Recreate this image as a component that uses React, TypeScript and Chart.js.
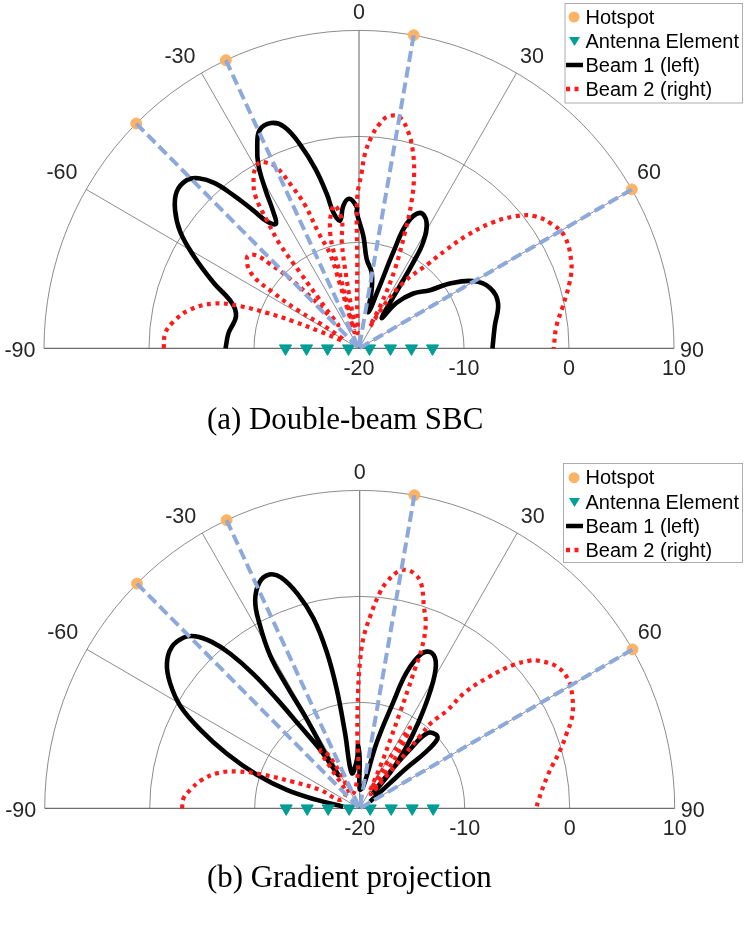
import React, { useEffect, useRef } from "react";
import { Chart, registerables } from "chart.js";

Chart.register(...registerables);

// polar values: angle in degrees, gain in dB
const radialTicks = [-20, -10, 0, 10];
const angleTicks = [-90, -60, -30, 0, 30, 60, 90];
const hotspotAngles = [-45, -25, 10, 60];
const hotspotGains = [10, 10, 10, 10];
const antennaAngles = [-90, -90, -90, -90, 90, 90, 90, 90];
const antennaGains = [-13, -15, -17, -19, -19, -17, -15, -13];
const legendLabels = ["Hotspot", "Antenna Element", "Beam 1 (left)", "Beam 2 (right)"];

const sbcBeam1Angles = [-90, -83.4, -75.5, -70.5, -65.9, -61, -57.2, -53.3, -49.6, -45.9, -43.6, -41.4, -39.6, -37.7, -36.2, -34, -32.4, -30.7, -29, -27, -24.7, -21.5, -18.8, -16.2, -13.8, -11.9, -10.8, -8.5, -6.3, -3.7, -0.9, -1, 2.2, 5, 9.6, 12.2, 14.6, 18.3, 19.8, 21.1, 24.4, 28.4, 31.4, 32.5, 33.9, 36.9, 39.8, 44.9, 50.9, 54.7, 59.7, 65.3, 72, 80.9, 90];
const sbcBeam1Gains = [-7.29, -7.49, -7.9, -7.16, -4.83, -2, 0.24, 1.85, 2.8, 2.82, 2.16, 0.78, -1.27, -3.57, -5.13, -5.84, -4.78, -2.48, -0.25, 1.35, 2.65, 2.85, 2.08, -0.02, -2.53, -5.09, -6.92, -7.81, -6.44, -5.86, -6.67, -7.15, -9.36, -11.56, -12.75, -14.31, -16.48, -14.14, -10.38, -7.41, -5.96, -6.47, -8.28, -10.4, -13.87, -16.41, -14.4, -12.69, -11.29, -9.4, -7.41, -6.29, -6.08, -6.91, -7.29];
const sbcBeam2Angles = [-90, -85.5, -81.8, -77.5, -73, -70.6, -69.1, -67.8, -66.7, -63.6, -57.5, -58.3, -57.2, -55.6, -51.2, -48.3, -46.8, -45.2, -43.3, -42, -40, -38.1, -37.5, -36, -34.4, -32, -30.2, -28.4, -26.8, -24.8, -22.6, -20.8, -19.5, -17.2, -16.7, -16.5, -16, -15, -14.5, -14.1, -10.1, -7.7, -9.3, -10.2, -10.5, -6, -2.4, -1.2, -0.7, 0.9, 1.8, 3.4, 5.3, 7.2, 10, 12.7, 15.3, 17.8, 19.9, 21.8, 24.6, 26.7, 26.8, 30.2, 34.2, 39.8, 41.6, 43.9, 46.8, 50.2, 53.3, 57.3, 61.6, 68.2, 72.8, 78.4, 83.7, 90];
const sbcBeam2Gains = [-1.4, -1.5, -2.17, -3.38, -5.52, -8.01, -10.61, -13.25, -15.96, -18.34, -16.73, -13.04, -10.31, -7.64, -6.31, -6.75, -8.4, -10.31, -13.67, -17.03, -15.22, -10.91, -7.68, -5.1, -2.51, -1.05, -0.35, -0.06, -0.35, -1.12, -3.5, -5.58, -8.38, -10.69, -13.7, -16.16, -18.4, -15.5, -12.5, -8.71, -6.31, -7.67, -9.87, -13.38, -16.58, -18.54, -15.39, -12.22, -5.88, -3.35, -1.6, 0, 1.28, 2.05, 2.16, 1.07, -0.62, -2.84, -5.31, -8.21, -11.79, -15.19, -17.68, -15.4, -12.51, -9.46, -7.69, -5.25, -2.7, -0.5, 0.87, 1.76, 2.25, 1.78, 0.99, -0.18, -1.09, -1.46];

const gradBeam1Angles = [-84, -78.9, -75.9, -72, -67.8, -63.9, -60.5, -56.8, -53.3, -49.6, -46.1, -44, -41.9, -40.2, -38.6, -37.4, -36.2, -34.2, -33, -32.5, -30.9, -31, -30.6, -28.7, -26.9, -24.1, -21.3, -19, -16.3, -13.8, -12, -11, -11.1, -12.8, -3.2, -1.5, 0, 0, 9.4, 14.6, 17.7, 19.2, 22, 25, 28.3, 31.4, 34.6, 37.8, 40.8, 41, 40, 40.7, 42, 46.1, 48.6, 49.8, 49.5, 50.4, 57];
const gradBeam1Gains = [-18.43, -15.84, -12.84, -9.71, -6.34, -3.09, -0.37, 1.58, 2.9, 3.5, 3.25, 2.58, 1.1, -0.9, -3.78, -7.02, -10.38, -13.29, -16.27, -14.17, -10.2, -6.51, -3.25, -0.1, 2, 3.37, 3.68, 3.05, 1.08, -1.56, -4.92, -8.54, -12.73, -16.58, -15.39, -13.97, -15.39, -18.2, -17.91, -13.6, -9.51, -6.41, -4.27, -3.8, -4.7, -7.18, -10.18, -12.98, -15.59, -18, -15.03, -12.67, -10.48, -9.93, -10.17, -11.88, -14.13, -16.26, -18.83];
const gradBeam2Angles = [-90, -86.7, -83.8, -79.8, -76, -73.2, -70.9, -68.6, -65.1, -66.8, -42, -36, -34.5, -31, -29, -30, -3, -1.8, -0.8, 0.1, 1.2, 3.1, 5.4, 6.8, 9.2, 11.1, 13.2, 15.3, 17.9, 20, 21.4, 21.8, 22.3, 23, 24, 26, 29, 30, 31, 31.5, 32.1, 34, 36, 38, 40, 40.1, 40.2, 42, 42.5, 44.7, 47.2, 49.3, 50.6, 54.4, 58.4, 62.3, 66.7, 70.5, 74.2, 80, 87.9, 90];
const gradBeam2Gains = [-3.08, -3.2, -3.77, -4.74, -6.15, -7.95, -10.3, -13.06, -15.84, -17.97, -18, -15.5, -13.4, -14, -16.5, -18.5, -16.67, -12.83, -9.03, -6.21, -3.99, -1.9, 0.47, 1.46, 2.63, 2.93, 2.75, 2.08, -0.07, -1.62, -3.83, -5.84, -7.83, -10.18, -12.54, -15.23, -17.64, -18, -15, -13, -11.01, -12.5, -15, -18.3, -15.03, -11.09, -9.4, -7.63, -5.17, -2.61, -0.09, 1.37, 1.97, 3.03, 3.29, 2.86, 2.04, 0.87, -0.21, -1.8, -3.01, -3.17];

const GRID = "#6e6e6e";
const INK = "#262626";
const ORANGE = "#fdb366";
const TEAL = "#009e96";
const BLUE = "#8da9dc";
const RED = "#ff1a1a";

const rad = (deg: number) => (deg * Math.PI) / 180;

// polar value -> plot coordinate, distance from the -20 dB centre in dB
const polar = (angle: number, gain: number) => ({
  x: (gain + 20) * Math.sin(rad(angle)),
  y: (gain + 20) * Math.cos(rad(angle)),
});
const curve = (angles: number[], gains: number[]) => angles.map((a, i) => polar(a, gains[i]));

// the source plot is very slightly taller than wide
const PX_PER_DB_X = 10.5;
const PX_PER_DB_Y = 10.6;
const WIDTH = 747;
const HEIGHT = 460;

// angle label position relative to the centre, px
const angleLabelOffsets: Record<number, number[]> = {
  [-90]: [-339, 1.5],
  [-60]: [-297, -176.5],
  [-30]: [-179, -292.5],
  0: [0, -336.5],
  30: [173, -292.5],
  60: [290, -176.5],
  90: [333, 1.5],
};

const makePolarGrid = (legendX: number, legendH: number, rows: number[]) => ({
  id: "polarGrid",
  beforeDatasetsDraw(chart: any) {
    const { ctx, scales } = chart;
    const px = (p: { x: number; y: number }) => [scales.x.getPixelForValue(p.x), scales.y.getPixelForValue(p.y)];
    const [cx, cy] = px({ x: 0, y: 0 });
    ctx.save();
    ctx.strokeStyle = GRID;
    ctx.lineWidth = 0.8;
    radialTicks.slice(1).forEach((t) => {
      const [ex] = px({ x: t + 20, y: 0 });
      const [, ey] = px({ x: 0, y: t + 20 });
      ctx.beginPath();
      ctx.ellipse(cx, cy, ex - cx, cy - ey, 0, Math.PI, 2 * Math.PI);
      ctx.stroke();
    });
    angleTicks.forEach((a) => {
      const [ex, ey] = px(polar(a, 10));
      ctx.lineWidth = a === 0 || Math.abs(a) === 90 ? 1.1 : 0.8;
      ctx.beginPath();
      ctx.moveTo(cx, cy);
      ctx.lineTo(ex, ey);
      ctx.stroke();
    });
    ctx.restore();
  },
  afterDatasetsDraw(chart: any) {
    const { ctx, scales } = chart;
    const px = (p: { x: number; y: number }) => [scales.x.getPixelForValue(p.x), scales.y.getPixelForValue(p.y)];
    const [cx, cy] = px({ x: 0, y: 0 });
    ctx.save();
    ctx.fillStyle = INK;
    ctx.font = '21.5px "Liberation Sans"';
    ctx.textAlign = "center";
    ctx.textBaseline = "middle";
    radialTicks.forEach((t) => {
      const [ex] = px({ x: t + 20, y: 0 });
      ctx.fillText(String(t), ex, cy + 21);
    });
    angleTicks.forEach((a) => {
      const [dx, dy] = angleLabelOffsets[a];
      ctx.fillText(String(a), cx + dx, cy + dy + 1.5);
    });

    // legend box
    ctx.fillStyle = "#fff";
    ctx.fillRect(legendX, 3.5, 742.6 - legendX, legendH);
    ctx.strokeStyle = "#999";
    ctx.lineWidth = 0.8;
    ctx.strokeRect(legendX, 3.5, 742.6 - legendX, legendH);
    ctx.fillStyle = ORANGE;
    ctx.beginPath();
    ctx.arc(574, rows[0], 5.5, 0, 2 * Math.PI);
    ctx.fill();
    ctx.fillStyle = TEAL;
    ctx.beginPath();
    ctx.moveTo(569, rows[1] - 4);
    ctx.lineTo(580, rows[1] - 4);
    ctx.lineTo(574.5, rows[1] + 5);
    ctx.closePath();
    ctx.fill();
    ctx.strokeStyle = "#000";
    ctx.lineWidth = 4.5;
    ctx.beginPath();
    ctx.moveTo(566, rows[2]);
    ctx.lineTo(583, rows[2]);
    ctx.stroke();
    ctx.strokeStyle = RED;
    ctx.setLineDash([4, 4.5]);
    ctx.beginPath();
    ctx.moveTo(566, rows[3]);
    ctx.lineTo(580, rows[3]);
    ctx.stroke();
    ctx.setLineDash([]);
    ctx.fillStyle = "#000";
    ctx.font = '20px "Liberation Sans"';
    ctx.textAlign = "left";
    legendLabels.forEach((label, i) => ctx.fillText(label, 585.5, rows[i] + 1));
    ctx.restore();
  },
});

type PanelProps = {
  beam1Angles: number[];
  beam1Gains: number[];
  beam2Angles: number[];
  beam2Gains: number[];
  centerX: number;
  centerY: number;
  top: number;
  legendX: number;
  legendH: number;
  legendRows: number[];
};

const Panel = ({ beam1Angles, beam1Gains, beam2Angles, beam2Gains, centerX, centerY, top, legendX, legendH, legendRows }: PanelProps) => {
  const canvasRef = useRef<HTMLCanvasElement>(null);

  useEffect(() => {
    if (!canvasRef.current) return;
    const spokes = hotspotAngles.map((a, i) => ({
      data: [polar(a, hotspotGains[i]), polar(a, -20)],
      showLine: true,
      borderColor: BLUE,
      borderWidth: 4,
      borderDash: [11, 5],
      pointRadius: 0,
      order: 1,
    }));
    const chart = new Chart(canvasRef.current, {
      type: "scatter",
      data: {
        datasets: [
          ...spokes,
          {
            data: curve(hotspotAngles, hotspotGains),
            backgroundColor: ORANGE,
            borderColor: ORANGE,
            pointRadius: 5.5,
            order: 2,
          },
          {
            data: curve(antennaAngles, antennaGains),
            backgroundColor: TEAL,
            borderColor: TEAL,
            pointStyle: "triangle",
            rotation: 180,
            pointRadius: 7,
            order: 3,
          },
          {
            data: curve(beam2Angles, beam2Gains),
            showLine: true,
            borderColor: RED,
            borderWidth: 4.2,
            borderDash: [4, 4.5],
            tension: 0.4,
            pointRadius: 0,
            order: 4,
          },
          {
            data: curve(beam1Angles, beam1Gains),
            showLine: true,
            borderColor: "#000",
            borderWidth: 4.6,
            tension: 0.4,
            pointRadius: 0,
            order: 5,
          },
        ] as any,
      },
      options: {
        animation: false,
        responsive: false,
        layout: { padding: 0, autoPadding: false },
        plugins: { legend: { display: false }, tooltip: { enabled: false } },
        scales: {
          x: { display: false, min: -centerX / PX_PER_DB_X, max: (WIDTH - centerX) / PX_PER_DB_X },
          y: { display: false, min: -(HEIGHT - centerY) / PX_PER_DB_Y, max: centerY / PX_PER_DB_Y },
        },
      },
      plugins: [makePolarGrid(legendX, legendH, legendRows)],
    });
    return () => chart.destroy();
  }, []);

  return (
    <canvas
      ref={canvasRef}
      width={WIDTH}
      height={HEIGHT}
      style={{ position: "absolute", left: 0, top, width: WIDTH, height: HEIGHT, display: "block" }}
    />
  );
};

const captionStyle: React.CSSProperties = {
  position: "absolute",
  left: 207,
  whiteSpace: "nowrap",
  fontFamily: '"Liberation Serif"',
  fontSize: 30.9,
  lineHeight: "34px",
  color: "#000",
};

const App = () => (
  <div style={{ position: "absolute", left: 0, top: 0, width: WIDTH, height: 927, background: "#fff" }}>
    <Panel
      beam1Angles={sbcBeam1Angles}
      beam1Gains={sbcBeam1Gains}
      beam2Angles={sbcBeam2Angles}
      beam2Gains={sbcBeam2Gains}
      centerX={359}
      centerY={348.4}
      top={0}
      legendX={565}
      legendH={99.5}
      legendRows={[17, 41, 65, 89]}
    />
    <div style={{ ...captionStyle, top: 402 }}>(a) Double-beam SBC</div>
    <Panel
      beam1Angles={gradBeam1Angles}
      beam1Gains={gradBeam1Gains}
      beam2Angles={gradBeam2Angles}
      beam2Gains={gradBeam2Gains}
      centerX={359.7}
      centerY={348.4}
      top={460}
      legendX={563.5}
      legendH={99}
      legendRows={[17.7, 42, 66, 90]}
    />
    <div style={{ ...captionStyle, top: 860 }}>(b) Gradient projection</div>
  </div>
);

export default App;
